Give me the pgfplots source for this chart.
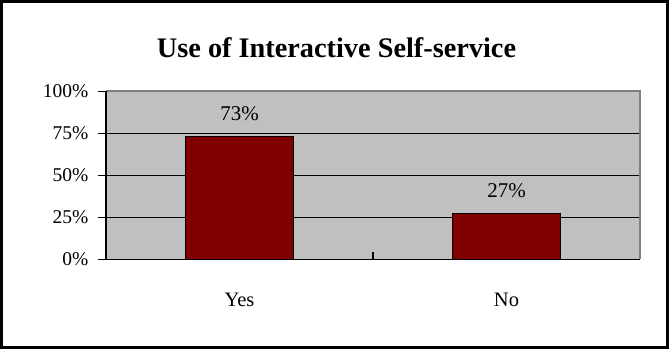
\documentclass[border=0pt]{standalone}
\usepackage{pgfplots}
\pgfplotsset{compat=1.18}
\usepackage{fontspec}
\setmainfont{Liberation Serif}
\definecolor{plotbg}{HTML}{C0C0C0}
\definecolor{barred}{HTML}{800000}
\definecolor{framegray}{HTML}{808080}
\begin{document}
\begin{tikzpicture}[x=1pt,y=1pt]
\draw[line width=3pt] (1.5,1.5) rectangle (667.5,347.5);
\node[anchor=base, inner sep=0pt, font=\bfseries\fontsize{28.3}{32}\selectfont] at (336.5,292) {Use of Interactive Self-service};
\begin{axis}[
  at={(106pt,89.7pt)}, anchor=south west,
  width=534pt, height=168.3pt, scale only axis,
  xmin=-0.5, xmax=1.5, ymin=0, ymax=100,
  /pgf/number format/assume math mode=true,
  axis background/.style={fill=plotbg},
  axis line style={draw=none},
  xtick pos=bottom, ytick pos=left,
  tick align=outside,
  major tick length=8pt,
  ytick={0,25,50,75,100},
  yticklabels={0\%,25\%,50\%,75\%,100\%},
  ytick style={black, line width=0.9pt},
  yticklabel style={font=\fontsize{19.5}{22}\selectfont, xshift=-6pt},
  xtick={0,1},
  xticklabels={Yes,No},
  xtick style={draw=none},
  xticklabel style={font=\fontsize{20.5}{24}\selectfont, anchor=base, yshift=-39pt},
  extra x ticks={-0.5,0.5,1.5},
  extra x tick labels={},
  extra x tick style={grid=none, tick align=inside, major tick length=7pt, xtick style={draw=black, line width=1.2pt}},
  ymajorgrids,
  major grid style={black, line width=0.9pt},
  nodes near coords={\pgfmathprintnumber{\pgfplotspointmeta}\%},
  every node near coord/.append style={font=\fontsize{21}{24}\selectfont, black, yshift=12pt},
  clip=false,
]
\addplot[ybar, bar width=108pt, fill=barred, draw=black, line width=0.9pt] coordinates {(0,73) (1,27)};
\draw[framegray, line width=1.6pt] (rel axis cs:0,1) -- (rel axis cs:1,1) -- (rel axis cs:1,0);
\draw[black, line width=1.6pt] (rel axis cs:0,1) -- (rel axis cs:0,0) -- (rel axis cs:1,0);
\end{axis}
\pgfresetboundingbox
\path (0,0) rectangle (669,349);
\end{tikzpicture}
\end{document}
